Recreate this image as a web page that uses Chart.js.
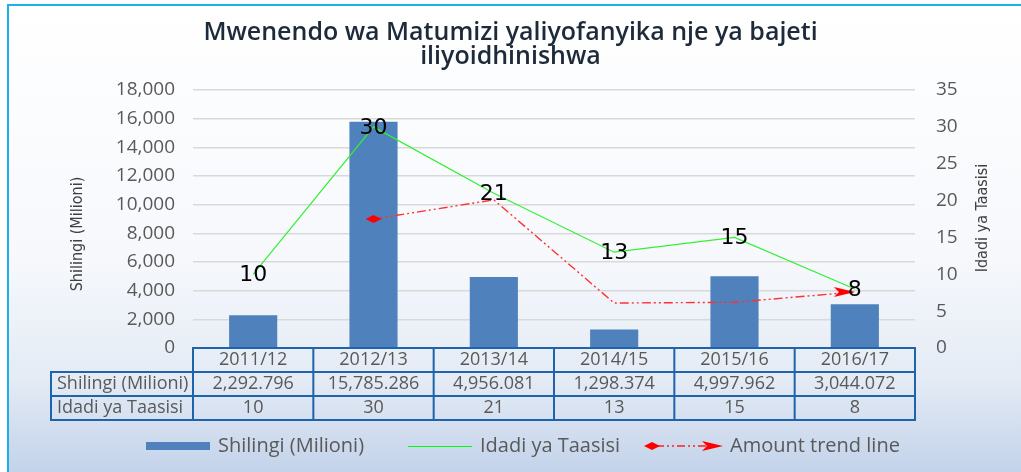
<!DOCTYPE html>
<html>
<head>
<meta charset="utf-8">
<script src="https://cdn.jsdelivr.net/npm/chart.js@4.4.1/dist/chart.umd.min.js"></script>
<style>
  html, body { margin: 0; padding: 0; background: #fff; }
  #wrap { width: 1021px; height: 472px; }
</style>
</head>
<body>
<div id="wrap"><canvas id="budgetChart" width="1021" height="472"></canvas></div>
<script>
// data
const years = ['2011/12', '2012/13', '2013/14', '2014/15', '2015/16', '2016/17'];
const amounts = [2292.796, 15785.286, 4956.081, 1298.374, 4997.962, 3044.072];
const amountLabels = ['2,292.796', '15,785.286', '4,956.081', '1,298.374', '4,997.962', '3,044.072'];
const institutions = [10, 30, 21, 13, 15, 8];
const trendLine = [null, 17.5, 20.1, 6.1, 6.2, 7.6];
const leftTicks = [0, 2000, 4000, 6000, 8000, 10000, 12000, 14000, 16000, 18000];
const rightTicks = [0, 5, 10, 15, 20, 25, 30, 35];

const barName = 'Shilingi (Milioni)';
const countName = 'Idadi ya Taasisi';
const trendName = 'Amount trend line';

const grey = '#595959';
const tableBlue = '#1f63ab';
const baseFont = "'Open Sans', sans-serif";
const narrowFont = "'Liberation Sans Narrow', 'DejaVu Sans Condensed', sans-serif";

// small canvases for the trend line start/end markers
function diamondMark() {
  const c = document.createElement('canvas');
  c.width = 16; c.height = 10;
  const g = c.getContext('2d');
  g.fillStyle = '#ff0000';
  g.beginPath();
  g.moveTo(0, 5); g.lineTo(8, 1); g.lineTo(16, 5); g.lineTo(8, 9);
  g.closePath(); g.fill();
  return c;
}
function arrowMark() {
  const c = document.createElement('canvas');
  c.width = 44; c.height = 12;
  const g = c.getContext('2d');
  g.fillStyle = '#ff0000';
  g.beginPath();
  g.moveTo(1, 1); g.lineTo(22, 6); g.lineTo(1, 11); g.lineTo(6, 6);
  g.closePath(); g.fill();
  return c;
}
const diamond = diamondMark();
const arrow = arrowMark();

const backdrop = {
  id: 'backdrop',
  beforeDraw(chart) {
    const { ctx, width, height } = chart;
    ctx.save();
    ctx.fillStyle = '#ffffff';
    ctx.fillRect(0, 0, width, height);
    const grad = ctx.createLinearGradient(0, 5, 0, height);
    grad.addColorStop(0, '#ffffff');
    grad.addColorStop(0.55, '#f6f8fc');
    grad.addColorStop(0.8, '#e4ebf5');
    grad.addColorStop(1, '#c3d3ea');
    ctx.fillStyle = grad;
    ctx.fillRect(8, 5, width - 8, height - 5);
    ctx.strokeStyle = '#1cb0e6';
    ctx.lineWidth = 2;
    ctx.beginPath();
    ctx.moveTo(8, height);
    ctx.lineTo(8, 5);
    ctx.lineTo(width, 5);
    ctx.stroke();
    ctx.restore();
  }
};

// axis titles, both read bottom-to-top as in the reference
function sideTitle(ctx, text, x, y) {
  ctx.save();
  ctx.translate(x, y);
  ctx.rotate(-Math.PI / 2);
  ctx.font = '16px ' + narrowFont;
  ctx.fillStyle = '#404040';
  ctx.textAlign = 'center';
  ctx.textBaseline = 'middle';
  ctx.fillText(text, 0, 0);
  ctx.restore();
}

const valueLabels = {
  id: 'valueLabels',
  afterDatasetsDraw(chart) {
    const { ctx } = chart;
    const meta = chart.getDatasetMeta(1);
    ctx.save();
    ctx.font = "22px 'DejaVu Sans', sans-serif";
    ctx.fillStyle = '#000000';
    ctx.textAlign = 'center';
    ctx.textBaseline = 'middle';
    meta.data.forEach((pt, i) => {
      ctx.fillText(String(institutions[i]), pt.x, pt.y + 1);
    });
    ctx.restore();
  }
};

const dataTable = {
  id: 'dataTable',
  afterDraw(chart) {
    const { ctx, chartArea } = chart;
    const x = chart.scales.x;
    const colW = chartArea.width / years.length;
    const top = chartArea.bottom;
    const rowH = 24;
    const headLeft = 51;

    sideTitle(ctx, barName, 78, 234);
    sideTitle(ctx, countName, 983, 218);

    ctx.save();
    ctx.strokeStyle = tableBlue;
    ctx.lineWidth = 2;
    // header row (categories)
    ctx.strokeRect(chartArea.left, top, chartArea.width, rowH);
    // body rows
    ctx.strokeRect(headLeft, top + rowH, chartArea.right - headLeft, rowH * 2);
    ctx.beginPath();
    ctx.moveTo(headLeft, top + rowH * 2);
    ctx.lineTo(chartArea.right, top + rowH * 2);
    for (let i = 0; i <= years.length; i++) {
      const cx = chartArea.left + i * colW;
      ctx.moveTo(cx, top);
      ctx.lineTo(cx, top + rowH * 3);
    }
    ctx.stroke();

    ctx.fillStyle = grey;
    ctx.font = '18px ' + baseFont;
    ctx.textBaseline = 'middle';
    ctx.textAlign = 'left';
    ctx.fillText(barName, headLeft + 6, top + rowH * 1.5);
    ctx.fillText(countName, headLeft + 6, top + rowH * 2.5);
    ctx.textAlign = 'center';
    years.forEach((yr, i) => {
      const cx = x.getPixelForValue(i);
      ctx.fillText(yr, cx, top + rowH * 0.5);
      ctx.fillText(amountLabels[i], cx, top + rowH * 1.5);
      ctx.fillText(String(institutions[i]), cx, top + rowH * 2.5);
    });

    // legend
    const ly = 446;
    ctx.font = '20px ' + baseFont;
    ctx.textAlign = 'left';
    ctx.fillStyle = '#4f81bd';
    ctx.fillRect(146, ly - 4, 64, 8);
    ctx.fillStyle = grey;
    ctx.fillText(barName, 218, ly);

    ctx.strokeStyle = '#00ff00';
    ctx.lineWidth = 1;
    ctx.beginPath();
    ctx.moveTo(408, ly + 0.5);
    ctx.lineTo(472, ly + 0.5);
    ctx.stroke();
    ctx.fillText(countName, 480, ly);

    ctx.strokeStyle = '#ff2020';
    ctx.lineWidth = 1.5;
    ctx.setLineDash([8, 3, 2, 3, 2, 3]);
    ctx.beginPath();
    ctx.moveTo(656, ly);
    ctx.lineTo(706, ly);
    ctx.stroke();
    ctx.setLineDash([]);
    ctx.drawImage(diamond, 644, ly - 5);
    ctx.drawImage(arrow, 701, ly - 6);
    ctx.fillText(trendName, 730, ly);
    ctx.restore();
  }
};

const ctx = document.getElementById('budgetChart').getContext('2d');
const budgetChart = new Chart(ctx, {
  type: 'bar',
  data: {
    labels: years,
    datasets: [
      {
        type: 'bar',
        label: barName,
        data: amounts,
        yAxisID: 'y',
        backgroundColor: '#4f81bd',
        barPercentage: 0.4,
        categoryPercentage: 1.0,
        order: 3
      },
      {
        type: 'line',
        label: countName,
        data: institutions,
        yAxisID: 'y1',
        borderColor: '#33f033',
        borderWidth: 1.2,
        pointRadius: 0,
        tension: 0,
        order: 2
      },
      {
        type: 'line',
        label: trendName,
        data: trendLine,
        yAxisID: 'y1',
        borderColor: '#ff3030',
        borderWidth: 1.4,
        borderDash: [9, 3, 2, 3, 2, 3],
        pointStyle: ['circle', diamond, 'circle', 'circle', 'circle', arrow],
        pointRadius: [0, 5, 0, 0, 0, 5],
        tension: 0,
        order: 1
      }
    ]
  },
  options: {
    responsive: false,
    animation: false,
    layout: {
      padding: { top: 8, bottom: 124, left: 0, right: 0 }
    },
    scales: {
      x: {
        display: false
      },
      y: {
        position: 'left',
        min: 0,
        max: 18000,
        afterFit: (s) => { s.width = 193; },
        afterBuildTicks: (s) => { s.ticks = leftTicks.map(v => ({ value: v })); },
        ticks: {
          color: grey,
          padding: 18,
          font: { family: baseFont, size: 19 },
          callback: (v) => v.toLocaleString('en-US')
        },
        grid: { color: '#d9d9d9', lineWidth: 1.5, drawTicks: false },
        border: { display: false }
      },
      y1: {
        position: 'right',
        min: 0,
        max: 35,
        afterFit: (s) => { s.width = 106; },
        afterBuildTicks: (s) => { s.ticks = rightTicks.map(v => ({ value: v })); },
        ticks: {
          color: grey,
          padding: 21,
          font: { family: baseFont, size: 19 }
        },
        grid: { display: false, drawTicks: false },
        border: { display: false }
      }
    },
    plugins: {
      legend: { display: false },
      tooltip: { enabled: false },
      title: {
        display: true,
        text: ['Mwenendo wa Matumizi yaliyofanyika nje ya bajeti', 'iliyoidhinishwa'],
        color: '#1d2a3a',
        font: { family: baseFont, size: 25, weight: 600, lineHeight: 0.96 },
        padding: { top: 13, bottom: 21 }
      }
    }
  },
  plugins: [backdrop, valueLabels, dataTable]
});
</script>
</body>
</html>
